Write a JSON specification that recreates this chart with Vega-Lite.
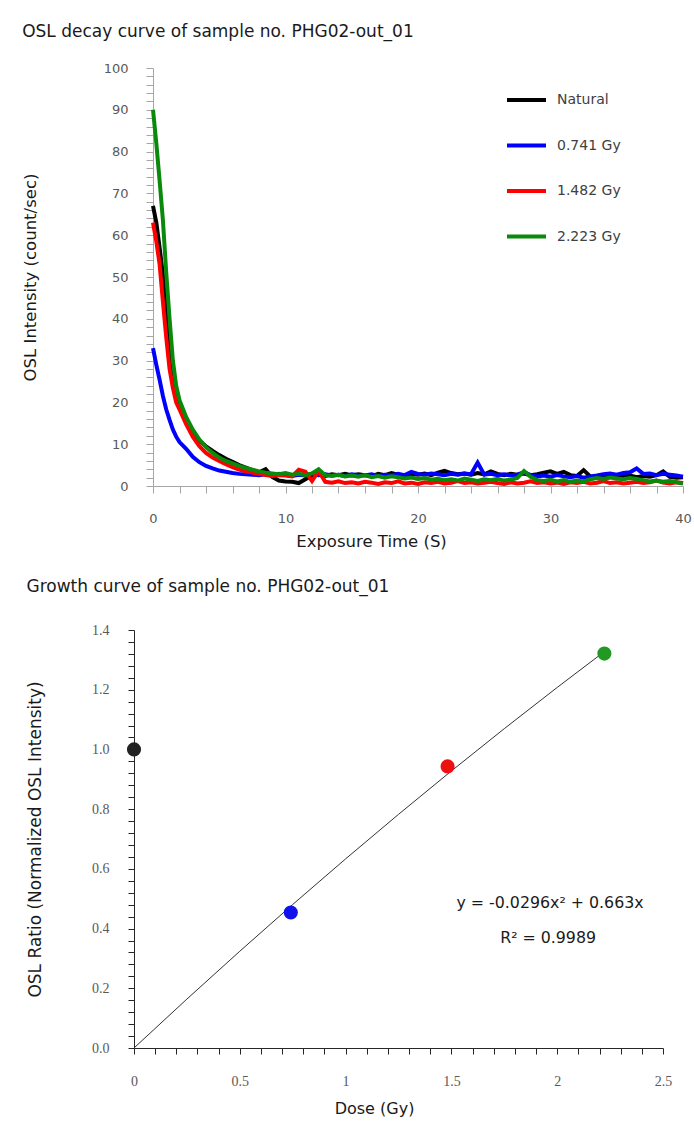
{
"$schema": "https://vega.github.io/schema/vega-lite/v6.json",
"background": "white",
"padding": {"left": 22, "top": 22, "right": 5, "bottom": 5},
"spacing": 28,
"resolve": {"scale": {"color": "independent", "x": "independent", "y": "independent"}},
"config": {"view": {"stroke": null}, "axis": {"grid": false, "labelOverlap": false, "labelFlush": false, "labelBound": false}},
"datasets": {
"decay": [
{"t":0,"s":"Natural","v":67},{"t":0.25,"s":"Natural","v":63},{"t":0.5,"s":"Natural","v":57},{"t":0.75,"s":"Natural","v":50.5},{"t":1,"s":"Natural","v":40.5},{"t":1.25,"s":"Natural","v":32},{"t":1.5,"s":"Natural","v":25.5},{"t":1.75,"s":"Natural","v":21.5},{"t":2,"s":"Natural","v":19},{"t":2.5,"s":"Natural","v":15.9},{"t":3,"s":"Natural","v":13.2},{"t":3.5,"s":"Natural","v":10.8},{"t":4,"s":"Natural","v":9.5},{"t":4.5,"s":"Natural","v":8.4},{"t":5,"s":"Natural","v":7.4},{"t":5.5,"s":"Natural","v":6.5},{"t":6,"s":"Natural","v":5.8},{"t":6.5,"s":"Natural","v":5.0},{"t":7,"s":"Natural","v":4.4},{"t":7.5,"s":"Natural","v":3.8},
{"t":8,"s":"Natural","v":3.3},{"t":8.5,"s":"Natural","v":4.0},{"t":9,"s":"Natural","v":2.2},{"t":9.5,"s":"Natural","v":1.3},{"t":10,"s":"Natural","v":1.1},{"t":10.5,"s":"Natural","v":1.0},{"t":11,"s":"Natural","v":0.7},{"t":11.5,"s":"Natural","v":1.6},{"t":12,"s":"Natural","v":2.5},{"t":12.5,"s":"Natural","v":2.7},{"t":13,"s":"Natural","v":2.4},{"t":13.5,"s":"Natural","v":2.8},{"t":14,"s":"Natural","v":2.6},{"t":14.5,"s":"Natural","v":2.9},{"t":15,"s":"Natural","v":2.5},{"t":15.5,"s":"Natural","v":2.8},{"t":16,"s":"Natural","v":2.6},{"t":16.5,"s":"Natural","v":2.3},{"t":17,"s":"Natural","v":2.9},{"t":17.5,"s":"Natural","v":2.6},{"t":18,"s":"Natural","v":3.1},{"t":18.5,"s":"Natural","v":2.7},{"t":19,"s":"Natural","v":2.5},{"t":19.5,"s":"Natural","v":2.9},{"t":20,"s":"Natural","v":2.7},{"t":20.5,"s":"Natural","v":3.0},{"t":21,"s":"Natural","v":2.6},{"t":21.5,"s":"Natural","v":3.2},{"t":22,"s":"Natural","v":3.6},{"t":22.5,"s":"Natural","v":3.1},{"t":23,"s":"Natural","v":2.8},{"t":23.5,"s":"Natural","v":3.0},{"t":24,"s":"Natural","v":2.7},{"t":24.5,"s":"Natural","v":3.1},{"t":25,"s":"Natural","v":2.8},{"t":25.5,"s":"Natural","v":3.5},{"t":26,"s":"Natural","v":2.9},{"t":26.5,"s":"Natural","v":2.6},{"t":27,"s":"Natural","v":2.9},{"t":27.5,"s":"Natural","v":2.7},{"t":28,"s":"Natural","v":3.0},{"t":28.5,"s":"Natural","v":2.6},{"t":29,"s":"Natural","v":2.8},{"t":29.5,"s":"Natural","v":3.2},{"t":30,"s":"Natural","v":3.5},{"t":30.5,"s":"Natural","v":2.9},{"t":31,"s":"Natural","v":3.4},{"t":31.5,"s":"Natural","v":2.6},{"t":32,"s":"Natural","v":2.4},{"t":32.5,"s":"Natural","v":3.8},{"t":33,"s":"Natural","v":2.3},{"t":33.5,"s":"Natural","v":2.1},{"t":34,"s":"Natural","v":2.4},{"t":34.5,"s":"Natural","v":2.2},{"t":35,"s":"Natural","v":2.6},{"t":35.5,"s":"Natural","v":2.3},{"t":36,"s":"Natural","v":2.5},{"t":36.5,"s":"Natural","v":2.1},{"t":37,"s":"Natural","v":2.4},{"t":37.5,"s":"Natural","v":2.2},{"t":38,"s":"Natural","v":2.6},{"t":38.5,"s":"Natural","v":3.5},{"t":39,"s":"Natural","v":2.2},{"t":39.5,"s":"Natural","v":2.0},{"t":40,"s":"Natural","v":2.1},
{"t":0,"s":"0.741 Gy","v":33},{"t":0.25,"s":"0.741 Gy","v":29},{"t":0.5,"s":"0.741 Gy","v":25.4},{"t":0.75,"s":"0.741 Gy","v":21.5},{"t":1,"s":"0.741 Gy","v":18.3},{"t":1.25,"s":"0.741 Gy","v":15.8},{"t":1.5,"s":"0.741 Gy","v":13.5},{"t":1.75,"s":"0.741 Gy","v":11.8},{"t":2,"s":"0.741 Gy","v":10.5},{"t":2.5,"s":"0.741 Gy","v":8.9},{"t":3,"s":"0.741 Gy","v":7.0},{"t":3.5,"s":"0.741 Gy","v":5.7},{"t":4,"s":"0.741 Gy","v":4.8},{"t":4.5,"s":"0.741 Gy","v":4.2},{"t":5,"s":"0.741 Gy","v":3.7},{"t":5.5,"s":"0.741 Gy","v":3.4},{"t":6,"s":"0.741 Gy","v":3.1},{"t":6.5,"s":"0.741 Gy","v":2.9},{"t":7,"s":"0.741 Gy","v":2.8},{"t":7.5,"s":"0.741 Gy","v":2.7},
{"t":8,"s":"0.741 Gy","v":2.6},{"t":8.5,"s":"0.741 Gy","v":2.8},{"t":9,"s":"0.741 Gy","v":2.5},{"t":9.5,"s":"0.741 Gy","v":2.9},{"t":10,"s":"0.741 Gy","v":2.6},{"t":10.5,"s":"0.741 Gy","v":2.4},{"t":11,"s":"0.741 Gy","v":2.7},{"t":11.5,"s":"0.741 Gy","v":2.5},{"t":12,"s":"0.741 Gy","v":2.9},{"t":12.5,"s":"0.741 Gy","v":2.6},{"t":13,"s":"0.741 Gy","v":2.8},{"t":13.5,"s":"0.741 Gy","v":2.5},{"t":14,"s":"0.741 Gy","v":2.7},{"t":14.5,"s":"0.741 Gy","v":2.4},{"t":15,"s":"0.741 Gy","v":2.8},{"t":15.5,"s":"0.741 Gy","v":2.6},{"t":16,"s":"0.741 Gy","v":2.5},{"t":16.5,"s":"0.741 Gy","v":2.8},{"t":17,"s":"0.741 Gy","v":2.4},{"t":17.5,"s":"0.741 Gy","v":2.7},{"t":18,"s":"0.741 Gy","v":2.5},{"t":18.5,"s":"0.741 Gy","v":2.9},{"t":19,"s":"0.741 Gy","v":2.6},{"t":19.5,"s":"0.741 Gy","v":3.4},{"t":20,"s":"0.741 Gy","v":2.9},{"t":20.5,"s":"0.741 Gy","v":2.7},{"t":21,"s":"0.741 Gy","v":3.0},{"t":21.5,"s":"0.741 Gy","v":2.8},{"t":22,"s":"0.741 Gy","v":2.6},{"t":22.5,"s":"0.741 Gy","v":2.9},{"t":23,"s":"0.741 Gy","v":2.7},{"t":23.5,"s":"0.741 Gy","v":3.0},{"t":24,"s":"0.741 Gy","v":2.8},{"t":24.5,"s":"0.741 Gy","v":5.6},{"t":25,"s":"0.741 Gy","v":2.7},{"t":25.5,"s":"0.741 Gy","v":2.9},{"t":26,"s":"0.741 Gy","v":2.6},{"t":26.5,"s":"0.741 Gy","v":2.8},{"t":27,"s":"0.741 Gy","v":2.5},{"t":27.5,"s":"0.741 Gy","v":2.7},{"t":28,"s":"0.741 Gy","v":3.3},{"t":28.5,"s":"0.741 Gy","v":2.6},{"t":29,"s":"0.741 Gy","v":2.3},{"t":29.5,"s":"0.741 Gy","v":2.5},{"t":30,"s":"0.741 Gy","v":2.2},{"t":30.5,"s":"0.741 Gy","v":2.6},{"t":31,"s":"0.741 Gy","v":2.3},{"t":31.5,"s":"0.741 Gy","v":2.1},{"t":32,"s":"0.741 Gy","v":2.4},{"t":32.5,"s":"0.741 Gy","v":2.0},{"t":33,"s":"0.741 Gy","v":2.3},{"t":33.5,"s":"0.741 Gy","v":2.5},{"t":34,"s":"0.741 Gy","v":2.8},{"t":34.5,"s":"0.741 Gy","v":3.0},{"t":35,"s":"0.741 Gy","v":2.7},{"t":35.5,"s":"0.741 Gy","v":3.1},{"t":36,"s":"0.741 Gy","v":3.3},{"t":36.5,"s":"0.741 Gy","v":4.2},{"t":37,"s":"0.741 Gy","v":2.9},{"t":37.5,"s":"0.741 Gy","v":3.0},{"t":38,"s":"0.741 Gy","v":2.6},{"t":38.5,"s":"0.741 Gy","v":2.9},{"t":39,"s":"0.741 Gy","v":2.7},{"t":39.5,"s":"0.741 Gy","v":2.5},{"t":40,"s":"0.741 Gy","v":2.2},
{"t":0,"s":"1.482 Gy","v":63},{"t":0.25,"s":"1.482 Gy","v":58.5},{"t":0.5,"s":"1.482 Gy","v":53},{"t":0.75,"s":"1.482 Gy","v":44},{"t":1,"s":"1.482 Gy","v":35.5},{"t":1.25,"s":"1.482 Gy","v":28},{"t":1.5,"s":"1.482 Gy","v":23.5},{"t":1.75,"s":"1.482 Gy","v":20},{"t":2,"s":"1.482 Gy","v":18.3},{"t":2.5,"s":"1.482 Gy","v":14.8},{"t":3,"s":"1.482 Gy","v":11.8},{"t":3.5,"s":"1.482 Gy","v":9.5},{"t":4,"s":"1.482 Gy","v":7.9},{"t":4.5,"s":"1.482 Gy","v":6.8},{"t":5,"s":"1.482 Gy","v":6.0},{"t":5.5,"s":"1.482 Gy","v":5.2},{"t":6,"s":"1.482 Gy","v":4.5},{"t":6.5,"s":"1.482 Gy","v":3.9},{"t":7,"s":"1.482 Gy","v":3.5},{"t":7.5,"s":"1.482 Gy","v":3.2},
{"t":8,"s":"1.482 Gy","v":2.9},{"t":8.5,"s":"1.482 Gy","v":2.6},{"t":9,"s":"1.482 Gy","v":2.4},{"t":9.5,"s":"1.482 Gy","v":2.6},{"t":10,"s":"1.482 Gy","v":2.5},{"t":10.5,"s":"1.482 Gy","v":2.3},{"t":11,"s":"1.482 Gy","v":3.9},{"t":11.5,"s":"1.482 Gy","v":3.4},{"t":12,"s":"1.482 Gy","v":1.2},{"t":12.5,"s":"1.482 Gy","v":3.6},{"t":13,"s":"1.482 Gy","v":1.0},{"t":13.5,"s":"1.482 Gy","v":0.8},{"t":14,"s":"1.482 Gy","v":1.1},{"t":14.5,"s":"1.482 Gy","v":0.7},{"t":15,"s":"1.482 Gy","v":0.9},{"t":15.5,"s":"1.482 Gy","v":0.6},{"t":16,"s":"1.482 Gy","v":1.0},{"t":16.5,"s":"1.482 Gy","v":0.8},{"t":17,"s":"1.482 Gy","v":0.5},{"t":17.5,"s":"1.482 Gy","v":0.9},{"t":18,"s":"1.482 Gy","v":0.7},{"t":18.5,"s":"1.482 Gy","v":1.1},{"t":19,"s":"1.482 Gy","v":0.6},{"t":19.5,"s":"1.482 Gy","v":0.8},{"t":20,"s":"1.482 Gy","v":0.5},{"t":20.5,"s":"1.482 Gy","v":0.9},{"t":21,"s":"1.482 Gy","v":0.7},{"t":21.5,"s":"1.482 Gy","v":1.0},{"t":22,"s":"1.482 Gy","v":0.6},{"t":22.5,"s":"1.482 Gy","v":0.8},{"t":23,"s":"1.482 Gy","v":1.2},{"t":23.5,"s":"1.482 Gy","v":0.7},{"t":24,"s":"1.482 Gy","v":0.9},{"t":24.5,"s":"1.482 Gy","v":0.6},{"t":25,"s":"1.482 Gy","v":0.8},{"t":25.5,"s":"1.482 Gy","v":1.0},{"t":26,"s":"1.482 Gy","v":0.7},{"t":26.5,"s":"1.482 Gy","v":0.5},{"t":27,"s":"1.482 Gy","v":0.9},{"t":27.5,"s":"1.482 Gy","v":0.6},{"t":28,"s":"1.482 Gy","v":0.8},{"t":28.5,"s":"1.482 Gy","v":1.1},{"t":29,"s":"1.482 Gy","v":0.7},{"t":29.5,"s":"1.482 Gy","v":0.9},{"t":30,"s":"1.482 Gy","v":0.6},{"t":30.5,"s":"1.482 Gy","v":0.8},{"t":31,"s":"1.482 Gy","v":0.5},{"t":31.5,"s":"1.482 Gy","v":0.9},{"t":32,"s":"1.482 Gy","v":0.7},{"t":32.5,"s":"1.482 Gy","v":1.0},{"t":33,"s":"1.482 Gy","v":0.6},{"t":33.5,"s":"1.482 Gy","v":0.8},{"t":34,"s":"1.482 Gy","v":1.2},{"t":34.5,"s":"1.482 Gy","v":0.7},{"t":35,"s":"1.482 Gy","v":0.9},{"t":35.5,"s":"1.482 Gy","v":0.6},{"t":36,"s":"1.482 Gy","v":0.8},{"t":36.5,"s":"1.482 Gy","v":1.0},{"t":37,"s":"1.482 Gy","v":0.7},{"t":37.5,"s":"1.482 Gy","v":0.9},{"t":38,"s":"1.482 Gy","v":1.3},{"t":38.5,"s":"1.482 Gy","v":0.8},{"t":39,"s":"1.482 Gy","v":0.6},{"t":39.5,"s":"1.482 Gy","v":0.9},{"t":40,"s":"1.482 Gy","v":0.7},
{"t":0,"s":"2.223 Gy","v":90},{"t":0.25,"s":"2.223 Gy","v":82},{"t":0.5,"s":"2.223 Gy","v":73},{"t":0.75,"s":"2.223 Gy","v":63.5},{"t":1,"s":"2.223 Gy","v":51},{"t":1.25,"s":"2.223 Gy","v":40},{"t":1.5,"s":"2.223 Gy","v":30},{"t":1.75,"s":"2.223 Gy","v":24},{"t":2,"s":"2.223 Gy","v":20.5},{"t":2.5,"s":"2.223 Gy","v":16.5},{"t":3,"s":"2.223 Gy","v":13.5},{"t":3.5,"s":"2.223 Gy","v":11.1},{"t":4,"s":"2.223 Gy","v":9.3},{"t":4.5,"s":"2.223 Gy","v":7.9},{"t":5,"s":"2.223 Gy","v":6.8},{"t":5.5,"s":"2.223 Gy","v":6.0},{"t":6,"s":"2.223 Gy","v":5.4},{"t":6.5,"s":"2.223 Gy","v":4.8},{"t":7,"s":"2.223 Gy","v":4.3},{"t":7.5,"s":"2.223 Gy","v":3.9},
{"t":8,"s":"2.223 Gy","v":3.5},{"t":8.5,"s":"2.223 Gy","v":3.2},{"t":9,"s":"2.223 Gy","v":3.0},{"t":9.5,"s":"2.223 Gy","v":2.8},{"t":10,"s":"2.223 Gy","v":3.1},{"t":10.5,"s":"2.223 Gy","v":2.7},{"t":11,"s":"2.223 Gy","v":2.9},{"t":11.5,"s":"2.223 Gy","v":2.6},{"t":12,"s":"2.223 Gy","v":3.0},{"t":12.5,"s":"2.223 Gy","v":4.0},{"t":13,"s":"2.223 Gy","v":2.6},{"t":13.5,"s":"2.223 Gy","v":2.4},{"t":14,"s":"2.223 Gy","v":2.7},{"t":14.5,"s":"2.223 Gy","v":2.3},{"t":15,"s":"2.223 Gy","v":2.5},{"t":15.5,"s":"2.223 Gy","v":2.2},{"t":16,"s":"2.223 Gy","v":2.6},{"t":16.5,"s":"2.223 Gy","v":2.1},{"t":17,"s":"2.223 Gy","v":2.4},{"t":17.5,"s":"2.223 Gy","v":2.0},{"t":18,"s":"2.223 Gy","v":2.3},{"t":18.5,"s":"2.223 Gy","v":2.1},{"t":19,"s":"2.223 Gy","v":1.8},{"t":19.5,"s":"2.223 Gy","v":2.0},{"t":20,"s":"2.223 Gy","v":1.7},{"t":20.5,"s":"2.223 Gy","v":1.9},{"t":21,"s":"2.223 Gy","v":1.5},{"t":21.5,"s":"2.223 Gy","v":1.7},{"t":22,"s":"2.223 Gy","v":1.4},{"t":22.5,"s":"2.223 Gy","v":1.6},{"t":23,"s":"2.223 Gy","v":1.3},{"t":23.5,"s":"2.223 Gy","v":1.8},{"t":24,"s":"2.223 Gy","v":1.5},{"t":24.5,"s":"2.223 Gy","v":1.2},{"t":25,"s":"2.223 Gy","v":1.6},{"t":25.5,"s":"2.223 Gy","v":1.4},{"t":26,"s":"2.223 Gy","v":1.7},{"t":26.5,"s":"2.223 Gy","v":1.3},{"t":27,"s":"2.223 Gy","v":1.5},{"t":27.5,"s":"2.223 Gy","v":1.9},{"t":28,"s":"2.223 Gy","v":3.6},{"t":28.5,"s":"2.223 Gy","v":2.2},{"t":29,"s":"2.223 Gy","v":1.4},{"t":29.5,"s":"2.223 Gy","v":1.2},{"t":30,"s":"2.223 Gy","v":1.5},{"t":30.5,"s":"2.223 Gy","v":1.1},{"t":31,"s":"2.223 Gy","v":1.4},{"t":31.5,"s":"2.223 Gy","v":1.0},{"t":32,"s":"2.223 Gy","v":1.3},{"t":32.5,"s":"2.223 Gy","v":1.1},{"t":33,"s":"2.223 Gy","v":1.6},{"t":33.5,"s":"2.223 Gy","v":1.9},{"t":34,"s":"2.223 Gy","v":1.7},{"t":34.5,"s":"2.223 Gy","v":2.0},{"t":35,"s":"2.223 Gy","v":1.8},{"t":35.5,"s":"2.223 Gy","v":1.6},{"t":36,"s":"2.223 Gy","v":1.9},{"t":36.5,"s":"2.223 Gy","v":1.7},{"t":37,"s":"2.223 Gy","v":1.4},{"t":37.5,"s":"2.223 Gy","v":1.1},{"t":38,"s":"2.223 Gy","v":1.3},{"t":38.5,"s":"2.223 Gy","v":1.0},{"t":39,"s":"2.223 Gy","v":1.2},{"t":39.5,"s":"2.223 Gy","v":0.9},{"t":40,"s":"2.223 Gy","v":0.6}
],
"fit": [
{"x":0,"y":0},{"x":0.25,"y":0.1639},{"x":0.5,"y":0.3241},{"x":0.75,"y":0.4806},{"x":1,"y":0.6334},{"x":1.25,"y":0.7825},{"x":1.5,"y":0.9279},{"x":1.75,"y":1.0696},{"x":2,"y":1.2076},{"x":2.223,"y":1.3276}
],
"pts": [
{"x":0,"y":1.0,"s":"Natural"},{"x":0.741,"y":0.454,"s":"0.741 Gy"},{"x":1.482,"y":0.943,"s":"1.482 Gy"},{"x":2.223,"y":1.321,"s":"2.223 Gy"}
],
"eq": [
{"x":1.966,"y":0.485,"label":"y = -0.0296x² + 0.663x"},{"x":1.957,"y":0.367,"label":"R² = 0.9989"}
]
},
"vconcat": [
{
"width": 549, "height": 418,
"title": {"text": "OSL decay curve of sample no. PHG02-out_01", "anchor": "start", "frame": "bounds", "offset": 21.5, "font": "DejaVu Sans", "fontSize": 17, "fontWeight": "normal", "color": "#1a1a1a"},
"data": {"name": "decay"},
"mark": {"type": "line", "strokeWidth": 4, "interpolate": "linear"},
"encoding": {
"x": {"field": "t", "type": "quantitative", "scale": {"domain": [0, 40], "nice": false, "zero": false, "range": [19, 549]},
"axis": {"title": "Exposure Time (S)", "titleX": 237, "values": [0,2,4,6,8,10,12,14,16,18,20,22,24,26,28,30,32,34,36,38,40], "labelExpr": "datum.value % 10 === 0 ? datum.label : ''", "domainColor": "#a6a6a6", "tickColor": "#a6a6a6", "tickSize": 7, "labelPadding": 19.5, "labelFontSize": 13, "labelColor": "#595959", "labelFont": "DejaVu Sans", "titleFont": "DejaVu Sans", "titleFontSize": 16.5, "titleFontWeight": "normal", "titleColor": "#1a1a1a", "titlePadding": 8}},
"y": {"field": "v", "type": "quantitative", "scale": {"domain": [0, 100], "nice": false},
"axis": {"title": "OSL Intensity (count/sec)", "offset": -19, "values": [0,2,4,6,8,10,12,14,16,18,20,22,24,26,28,30,32,34,36,38,40,42,44,46,48,50,52,54,56,58,60,62,64,66,68,70,72,74,76,78,80,82,84,86,88,90,92,94,96,98,100], "labelExpr": "datum.value % 10 === 0 ? datum.label : ''", "domainColor": "#a6a6a6", "tickColor": "#a6a6a6", "tickSize": 7, "labelPadding": 18, "labelFontSize": 13, "labelColor": "#595959", "labelFont": "DejaVu Sans", "titleFont": "DejaVu Sans", "titleFontSize": 16.5, "titleFontWeight": "normal", "titleColor": "#1a1a1a", "titlePadding": 65}},
"color": {"field": "s", "type": "nominal", "sort": null,
"scale": {"domain": ["Natural", "0.741 Gy", "1.482 Gy", "2.223 Gy"], "range": ["#000000", "#0000ff", "#ff0000", "#0a8a0a"]},
"legend": {"orient": "none", "legendX": 371, "legendY": 10.5, "title": null, "symbolType": "stroke", "symbolSize": 1521, "symbolStrokeWidth": 4, "labelFontSize": 14, "labelColor": "#404040", "labelFont": "DejaVu Sans", "rowPadding": 15.5, "labelOffset": 9, "padding": 0}}
}
},
{
"width": 529, "height": 418,
"title": {"text": "Growth curve of sample no. PHG02-out_01", "anchor": "start", "frame": "bounds", "offset": 27, "font": "DejaVu Sans", "fontSize": 17, "fontWeight": "normal", "color": "#1a1a1a"},
"encoding": {
"x": {"field": "x", "type": "quantitative", "scale": {"domain": [0, 2.5], "nice": false},
"axis": {"title": "Dose (Gy)", "titleX": 240, "values": [0,0.1,0.2,0.3,0.4,0.5,0.6,0.7,0.8,0.9,1,1.1,1.2,1.3,1.4,1.5,1.6,1.7,1.8,1.9,2,2.1,2.2,2.3,2.4,2.5], "labelExpr": "round(datum.value*10) % 5 === 0 ? format(datum.value, '~g') : ''", "domainColor": "#262626", "tickColor": "#262626", "tickSize": 6, "labelPadding": 20, "labelFontSize": 14, "labelColor": "#595959", "labelFont": "Liberation Serif", "titleFont": "DejaVu Sans", "titleFontSize": 16, "titleFontWeight": "normal", "titleColor": "#1a1a1a", "titlePadding": 12}},
"y": {"field": "y", "type": "quantitative", "scale": {"domain": [0, 1.4], "nice": false},
"axis": {"title": "OSL Ratio (Normalized OSL Intensity)", "values": [0,0.04,0.08,0.12,0.16,0.2,0.24,0.28,0.32,0.36,0.4,0.44,0.48,0.52,0.56,0.6,0.64,0.68,0.72,0.76,0.8,0.84,0.88,0.92,0.96,1,1.04,1.08,1.12,1.16,1.2,1.24,1.28,1.32,1.36,1.4], "labelExpr": "round(datum.value*100) % 20 === 0 ? format(datum.value, '.1f') : ''", "domainColor": "#262626", "tickColor": "#262626", "tickSize": 6, "labelPadding": 19, "labelFontSize": 14, "labelColor": "#595959", "labelFont": "Liberation Serif", "titleFont": "DejaVu Sans", "titleFontSize": 17, "titleFontWeight": "normal", "titleColor": "#1a1a1a", "titlePadding": 47}}
},
"layer": [
{
"data": {"name": "fit"},
"mark": {"type": "line", "strokeWidth": 1, "color": "#333333"}
},
{
"data": {"name": "pts"},
"mark": {"type": "point", "filled": true, "size": 200, "opacity": 1},
"encoding": {
"color": {"field": "s", "type": "nominal", "legend": null,
"scale": {"domain": ["Natural", "0.741 Gy", "1.482 Gy", "2.223 Gy"], "range": ["#222222", "#1111ee", "#ee1111", "#229922"]}}
}
},
{
"data": {"name": "eq"},
"mark": {"type": "text", "font": "DejaVu Sans", "fontSize": 15.8, "color": "#1a1a1a", "align": "center", "baseline": "middle"},
"encoding": {
"text": {"field": "label", "type": "nominal"}
}
}
]
}
]
}
